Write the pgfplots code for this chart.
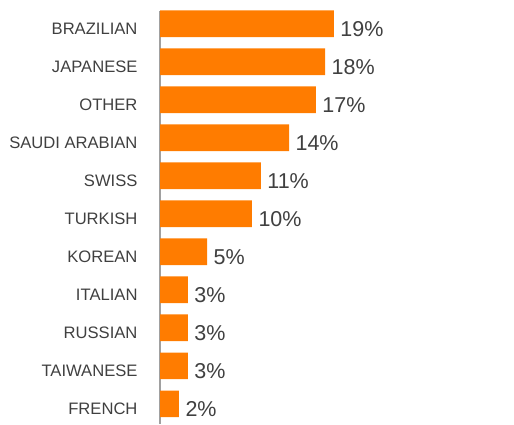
\documentclass[border=0pt]{standalone}
\usepackage{pgfplots}
\pgfplotsset{compat=1.18}
\usepackage{fontspec}
\setmainfont{Liberation Sans}
\definecolor{barorange}{HTML}{FF7C00}
\definecolor{txtgrey}{HTML}{404040}
\definecolor{axgrey}{HTML}{A0A0A0}
\begin{document}
\begin{tikzpicture}
\begin{axis}[
  at={(160bp,0bp)}, anchor=south west,
  scale only axis,
  width=354bp, height=413bp,
  xmin=0, xmax=38.6,
  ymin=-0.53, ymax=10.337,
  xbar, bar width=26.7bp,
  axis x line=none,
  axis y line*=left,
  y axis line style={color=axgrey, line width=1.2bp, -},
  ytick=data,
  yticklabels={FRENCH,TAIWANESE,RUSSIAN,ITALIAN,KOREAN,TURKISH,SWISS,SAUDI ARABIAN,OTHER,JAPANESE,BRAZILIAN},
  yticklabel style={font=\fontsize{16.6bp}{18bp}\selectfont, text=txtgrey, xshift=-19bp, yshift=-4.5bp},
  major tick length=0pt,
  /pgf/number format/assume math mode=true,
  nodes near coords,
  nodes near coords style={font=\fontsize{21.5bp}{24bp}\selectfont, text=txtgrey, anchor=west, xshift=3bp, yshift=-5bp},
  nodes near coords={\pgfmathprintnumber[fixed,precision=0,assume math mode=true]{\pgfplotspointmeta}\%},
  point meta=explicit,
  clip=false,
]
\addplot[fill=barorange, draw=none] table[x=v, y=i, meta=v] {
i v
0 2.07
1 3.05
2 3.05
3 3.05
4 5.13
5 10.03
6 11.0
7 14.07
8 17.0
9 18.0
10 18.97
};
\end{axis}
\path (0bp,0bp) rectangle (514bp,424bp);
\end{tikzpicture}
\end{document}
